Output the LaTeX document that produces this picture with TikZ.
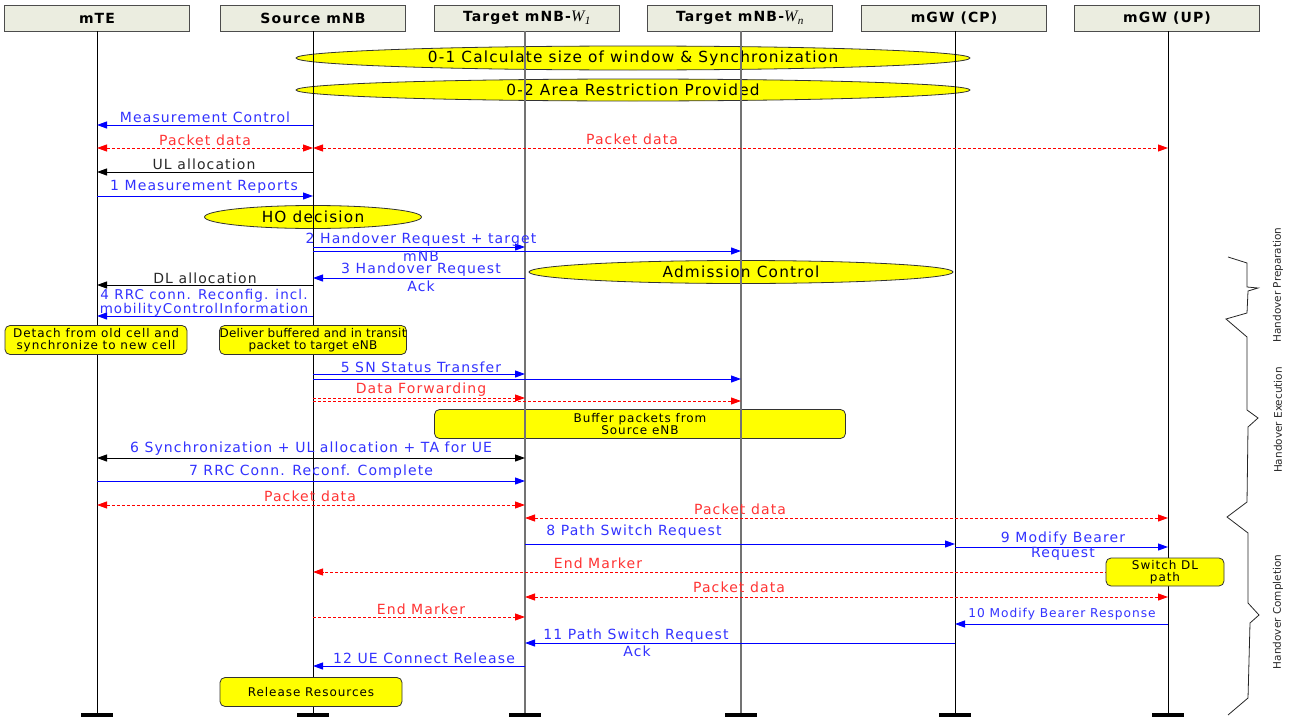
\documentclass[tikz,border=0pt]{standalone}
\usepackage{fontspec}
\setmainfont{DejaVu Sans}
\newfontfamily\msgf{DejaVu Sans}[LetterSpace=8]
\newfontfamily\hdrf{DejaVu Sans}[LetterSpace=8]
\newfontfamily\boxf{DejaVu Sans}[LetterSpace=8]
\newfontfamily\boxg{DejaVu Sans}[LetterSpace=2]
\newfontfamily\wfont{Liberation Serif}
\usetikzlibrary{arrows.meta,shapes.geometric}
\definecolor{hdrfill}{RGB}{235,237,224}
\definecolor{lblue}{RGB}{50,50,255}
\definecolor{lred}{RGB}{255,50,50}
\definecolor{lblack}{RGB}{40,40,40}
\definecolor{ylw}{RGB}{255,255,0}
\newcommand{\wsub}[1]{{\wfont\mdseries\itshape\fontsize{16}{16}\selectfont W\kern0.5pt\textsubscript{#1}}}
\tikzset{
  hdr/.style={draw=black!70, fill=hdrfill, minimum width=185pt, minimum height=26pt, inner sep=0pt, font=\hdrf\bfseries\fontsize{14}{16}\selectfont},
  lifeblack/.style={line width=1pt, black},
  lifegray/.style={line width=1.5pt, black!55},
  endbar/.style={fill=black, minimum width=32pt, minimum height=4pt, inner sep=0pt},
  tip/.tip={Triangle[length=10pt,width=7pt]},
  msgb/.style={draw=blue, line width=1pt, -tip},
  msgk/.style={draw=black, line width=1pt, -tip},
  msgr/.style={draw=red, line width=0.9pt, dash pattern=on 3pt off 2pt, -tip},
  msgrr/.style={draw=red, line width=0.9pt, dash pattern=on 3pt off 2pt, tip-tip},
  msgkk/.style={draw=black, line width=1pt, tip-tip},
  lbl/.style={inner sep=0pt, font=\msgf\fontsize{14}{14}\selectfont},
  lb/.style={lbl, text=lblue},
  lr/.style={lbl, text=lred},
  lk/.style={lbl, text=lblack},
  ybox/.style={draw=black!80, fill=ylw, rounded corners=5pt, line width=0.8pt, inner sep=0pt, align=center, font=\boxf\fontsize{12}{11.5}\selectfont},
  yell/.style={ellipse, draw=black!80, fill=ylw, inner sep=0pt, line width=0.8pt, font=\msgf\fontsize{15.3}{16}\selectfont},
  phase/.style={rotate=90, inner sep=0pt, text=lblack, font=\fontsize{10.5}{12}\selectfont},
}
\begin{document}
\begin{tikzpicture}[x=1pt,y=-1pt]
\useasboundingbox (0,0) rectangle (1298,720);
% headers
\node[hdr] (h1) at (97,18) {mTE};
\node[hdr] (h2) at (313,18) {Source mNB};
\node[hdr] (h3) at (527,18) {Target mNB-\wsub{1}};
\node[hdr] (h4) at (740,18) {Target mNB-\wsub{n}};
\node[hdr] (h5) at (954,18) {mGW (CP)};
\node[hdr] (h6) at (1167,18) {mGW (UP)};
% end bars
\node[endbar] (e1) at (97,715) {};
\node[endbar] (e2) at (313,715) {};
\node[endbar] (e3) at (525,715) {};
\node[endbar] (e4) at (741,715) {};
\node[endbar] (e5) at (955,715) {};
\node[endbar] (e6) at (1168,715) {};
% background shapes (under lifelines)
\node[yell, minimum width=674pt, minimum height=24pt] (s01) at (633,58) {0-1 Calculate size of window \& Synchronization};
\node[yell, minimum width=674pt, minimum height=22pt] (s02) at (633,90) {0-2 Area Restriction Provided};
\node[yell, minimum width=217pt, minimum height=23pt] (hod) at (313,217) {HO decision};
\node[yell, minimum width=424pt, minimum height=23pt] (adm) at (741,272) {Admission Control};
\node[ybox, minimum width=411pt, minimum height=29pt] (buf) at (640,424) {Buffer packets from\\Source eNB};
% lifelines
\draw[lifeblack] (h1.south) -- (e1.north);
\draw[lifeblack] (h2.south) -- (e2.north);
\draw[lifegray] (h3.south -| e3) -- (e3.north);
\draw[lifegray] (h4.south -| e4) -- (e4.north);
\draw[lifeblack] (h5.south -| e5) -- (e5.north);
\draw[lifeblack] (h6.south -| e6) -- (e6.north);
% messages
\draw[msgb] (e2 |- 0,125) -- (e1 |- 0,125);
\node[lb] (t1) at (205,117) {Measurement Control};
\draw[msgrr] (e1 |- 0,148) -- (e2 |- 0,148);
\node[lr] (t2) at (205,140) {Packet data};
\draw[msgrr] (e2 |- 0,148) -- (e6 |- 0,148);
\node[lr] (t3) at (632,139) {Packet data};
\draw[msgk] (e2 |- 0,172) -- (e1 |- 0,172);
\node[lk] (t4) at (204,164) {UL allocation};
\draw[msgb] (e1 |- 0,196) -- (e2 |- 0,196);
\node[lb] (t5) at (204,187) {1 Measurement Reports};
\draw[msgb] (e2 |- 0,247) -- (e3 |- 0,247);
\draw[msgb] (e2 |- 0,251) -- (e4 |- 0,251);
\node[lb] (t6) at (421,240) {2 Handover Request + target};
\node[lb] (t6b) at (421,256) {mNB};
\draw[msgb] (e3 |- 0,278) -- (e2 |- 0,278);
\node[lb] (t7) at (421,270) {3 Handover Request};
\node[lb] (t7b) at (421,286) {Ack};
\draw[msgk] (e2 |- 0,285) -- (e1 |- 0,285);
\node[lk] (t8) at (205,278) {DL allocation};
\draw[msgb] (e2 |- 0,316) -- (e1 |- 0,316);
\node[lb, font=\msgf\fontsize{13.5}{14}\selectfont] (t9) at (204,296) {4 RRC conn. Reconfig. incl.};
\node[lb, font=\msgf\fontsize{13.5}{14}\selectfont] (t9b) at (204,309.5) {mobilityControlInformation};
\draw[msgb] (e2 |- 0,374) -- (e3 |- 0,374);
\draw[msgb] (e2 |- 0,379) -- (e4 |- 0,379);
\node[lb] (t10) at (421,367) {5 SN Status Transfer};
\draw[msgr] (e2 |- 0,398) -- (e3 |- 0,398);
\draw[msgr] (e2 |- 0,401) -- (e4 |- 0,401);
\node[lr] (t11) at (421,390) {Data Forwarding};
\draw[msgkk] (e1 |- 0,458) -- (e3 |- 0,458);
\node[lb] (t12) at (311,449) {6 Synchronization + UL allocation + TA for UE};
\draw[msgb] (e1 |- 0,481) -- (e3 |- 0,481);
\node[lb] (t13) at (311,472) {7 RRC Conn. Reconf. Complete};
\draw[msgrr] (e1 |- 0,505) -- (e3 |- 0,505);
\node[lr] (t14) at (310,496) {Packet data};
\draw[msgrr] (e3 |- 0,518) -- (e6 |- 0,518);
\node[lr] (t15) at (740,509) {Packet data};
\draw[msgb] (e3 |- 0,544) -- (e5 |- 0,544);
\node[lb] (t16) at (634,532) {8 Path Switch Request};
\draw[msgb] (e5 |- 0,547) -- (e6 |- 0,547);
\node[lb] (t17) at (1063,539) {9 Modify Bearer};
\node[lb] (t17b) at (1063,554) {Request};
\draw[msgr] (e6 |- 0,572) -- (e2 |- 0,572);
\node[lr] (t18) at (598,563) {End Marker};
\draw[msgrr] (e3 |- 0,597) -- (e6 |- 0,597);
\node[lr] (t19) at (739,587) {Packet data};
\draw[msgr] (e2 |- 0,617) -- (e3 |- 0,617);
\node[lr] (t20) at (421,609) {End Marker};
\draw[msgb] (e6 |- 0,624) -- (e5 |- 0,624);
\node[lb, font=\msgf\fontsize{12.2}{13}\selectfont] (t21) at (1062,614) {10 Modify Bearer Response};
\draw[msgb] (e5 |- 0,643) -- (e3 |- 0,643);
\node[lb] (t22) at (636,636) {11 Path Switch Request};
\node[lb] (t22b) at (637,651) {Ack};
\draw[msgb] (e3 |- 0,666) -- (e2 |- 0,666);
\node[lb] (t23) at (424,658) {12 UE Connect Release};
% foreground boxes
\node[ybox, minimum width=182pt, minimum height=29pt] (det) at (96,340) {Detach from old cell and\\synchronize to new cell};
\node[ybox, minimum width=183pt, minimum height=29pt, font=\boxg\fontsize{12}{11.5}\selectfont] (del) at (313,340) {Deliver buffered and in transit\\packet to target eNB};
\node[ybox, minimum width=118pt, minimum height=28pt] (sw) at (1165,572) {Switch DL\\path};
\node[ybox, minimum width=182pt, minimum height=29pt] (rel) at (311,692) {Release Resources};
% phase braces
\draw[line width=0.8pt, black!85] (1228,257) -- (1247,263) -- (1247,287) -- (1258,288) -- (1248,291) -- (1247,313) -- (1226,319) -- (1247,337) -- (1247,410) -- (1258,418) -- (1248,427) -- (1247,502) -- (1227,517) -- (1248,533) -- (1248,603) -- (1259,615) -- (1250,623) -- (1248,698) -- (1228,715);
\node[phase] (p1) at (1278,285) {Handover Preparation};
\node[phase] (p2) at (1278,420) {Handover Execution};
\node[phase] (p3) at (1278,612) {Handover Completion};
\end{tikzpicture}
\end{document}
